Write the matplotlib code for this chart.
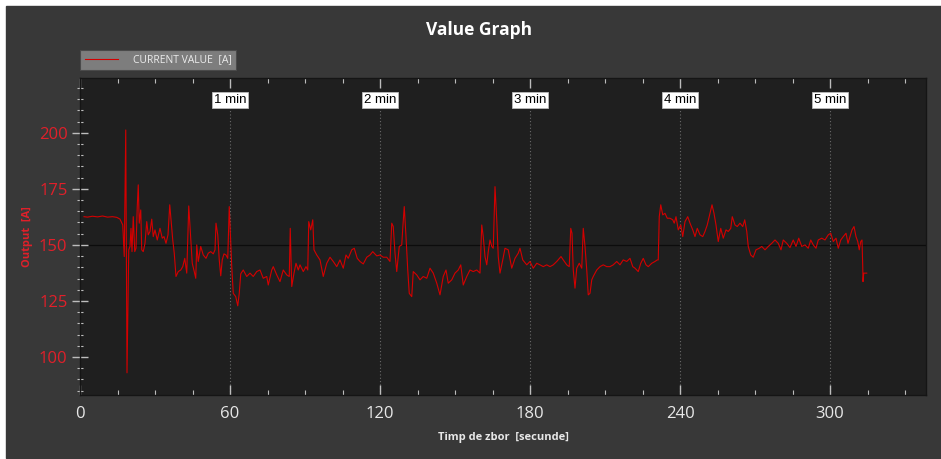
"""
Value Graph: current over flight time, dark theme.
Saves out.png (941x459).
"""
import matplotlib
matplotlib.use('Agg')
import matplotlib.pyplot as plt
from matplotlib.ticker import MultipleLocator

# Flight time (s) and current value (A)
time_s = [
    1.6, 3, 5, 7, 9, 11, 13, 14.7, 16, 17.1,
    17.7, 18.3, 18.8, 19.5, 20, 20.4, 20.8, 21.3, 21.9, 22.4,
    22.9, 23.3, 23.7, 24.3, 24.7, 25.3, 26, 26.7, 27.3, 28,
    28.7, 29.3, 30, 30.9, 32, 32.9, 33.6, 34.4, 35.2, 35.9,
    36.4, 37.1, 37.7, 38.4, 39.3, 40.3, 41.1, 41.9, 42.7, 43.5,
    44.1, 44.9, 45.7, 46.3, 46.7, 47.3, 48.3, 49.3, 50.4, 51.3,
    52.3, 53.3, 54, 54.4, 55.1, 55.7, 56.3, 56.9, 57.6, 58.4,
    59.1, 59.7, 60.1, 60.7, 61.3, 62.3, 63.1, 63.7, 64.3, 65.3,
    66.7, 68, 69.3, 70.7, 72, 73.3, 74.7, 75.3, 76.7, 77.3,
    78.7, 80, 81.3, 82.7, 83.7, 84.1, 84.7, 85.6, 86.4, 87.3,
    88, 89.3, 90.4, 91.1, 91.5, 92.3, 93.1, 93.6, 94.7, 96,
    97.3, 98.7, 100, 101.3, 102.7, 104, 105.3, 106.4, 107.3, 108.7,
    109.7, 110.9, 112, 113.3, 114.7, 116, 117.1, 118.7, 120, 121.3,
    122.7, 124, 124.7, 125.3, 126, 126.7, 127.7, 128.7, 129.1, 129.7,
    130.4, 131.1, 131.7, 132.7, 133.3, 134.7, 136, 137.3, 138.7, 140,
    141.3, 142.7, 144, 145.3, 146.4, 147.3, 148.7, 150, 151.3, 152.3,
    153.3, 154.7, 156, 157.3, 158.7, 160, 160.7, 161.3, 162, 162.7,
    163.3, 164, 164.7, 165.3, 166, 166.7, 167.3, 168, 169.1, 170,
    171.3, 172.7, 174, 175.3, 176, 177.1, 178.7, 180, 181.3, 182.7,
    184, 185.3, 186.7, 188, 189.3, 190.7, 192.4, 193.3, 194.7, 195.7,
    196.3, 196.8, 197.3, 198, 198.7, 199.7, 200.7, 201.3, 202, 202.7,
    203.3, 204, 204.7, 205.3, 206.7, 208, 209.3, 210.7, 212, 213.3,
    214.7, 216, 217.3, 218.7, 220, 221.1, 222, 223.3, 224.3, 225.3,
    226.4, 227.3, 228.7, 230, 230.9, 231.3, 231.7, 232.3, 233.1, 234,
    234.9, 236, 237.1, 237.7, 238.4, 239.3, 240.3, 241.1, 242, 243.1,
    244, 245.1, 246, 246.9, 248, 249.1, 250, 250.9, 252, 252.8,
    253.6, 254.4, 255.3, 256.3, 257.3, 258.4, 259.3, 260.3, 260.9, 262,
    262.9, 264, 265.1, 265.9, 266.7, 267.3, 268.3, 269.3, 270.4, 271.7,
    272.7, 274, 275.3, 276.7, 278, 279.3, 280.4, 281.3, 282.7, 284,
    285.3, 286.4, 287.5, 288.7, 290, 291.3, 292.3, 293.3, 294.4, 295.3,
    296.7, 298, 299.3, 300.3, 301.3, 302.4, 303.3, 304.3, 305.3, 306.4,
    307.2, 308, 308.8, 309.6, 310.4, 311.1, 311.7, 312.3, 312.8, 313.1,
    313.2, 313.5, 314.7,
]
current_a = [
    162.6, 162.4, 162.8, 162.5, 162.9, 162.4, 162.6, 162.3, 161.5, 158.9,
    144.8, 201.3, 92.9, 147.8, 149.3, 157.4, 147.0, 162.6, 147.0, 148.5,
    167.1, 176.8, 159.7, 165.6, 147.8, 147.0, 150.7, 160.4, 154.5, 156.0,
    161.5, 153.7, 156.7, 152.2, 157.4, 153.0, 153.7, 150.7, 154.5, 167.9,
    161.2, 152.2, 146.3, 135.9, 138.1, 138.8, 140.3, 144.0, 137.4, 167.4,
    156.7, 141.8, 138.1, 135.1, 150.0, 142.6, 149.3, 145.5, 144.0, 146.3,
    147.0, 146.0, 147.8, 159.7, 154.5, 143.3, 136.2, 143.3, 146.0, 145.5,
    144.0, 167.1, 156.7, 140.3, 128.4, 126.9, 122.8, 128.4, 137.1, 138.8,
    135.9, 137.4, 135.9, 138.1, 138.8, 135.1, 135.9, 132.1, 138.8, 140.3,
    136.6, 133.6, 138.8, 136.6, 135.9, 157.4, 131.4, 137.4, 141.8, 138.8,
    141.1, 138.1, 140.3, 138.8, 160.4, 156.7, 161.2, 147.8, 145.5, 143.3,
    135.9, 141.8, 144.5, 142.6, 140.3, 143.3, 139.6, 145.5, 144.0, 147.8,
    148.5, 144.0, 142.6, 141.5, 144.5, 145.5, 147.0, 145.1, 145.5, 144.5,
    144.5, 142.6, 159.7, 158.2, 146.3, 138.1, 149.3, 150.0, 157.4, 167.1,
    153.7, 138.8, 128.4, 126.9, 138.1, 136.6, 134.4, 135.9, 135.1, 139.6,
    137.4, 132.9, 127.7, 135.9, 138.8, 132.9, 134.4, 137.4, 138.8, 141.1,
    132.1, 135.9, 138.8, 138.1, 138.8, 137.4, 158.9, 153.7, 144.8, 141.1,
    147.0, 152.2, 149.3, 148.5, 176.0, 161.2, 144.8, 137.4, 143.3, 148.5,
    147.8, 139.6, 144.0, 146.3, 148.5, 143.3, 141.1, 142.6, 139.6, 141.8,
    141.1, 140.3, 141.1, 140.3, 141.1, 142.6, 144.8, 143.3, 141.1, 140.3,
    157.4, 155.2, 138.8, 130.7, 139.6, 141.8, 139.6, 157.4, 149.3, 138.8,
    127.7, 128.4, 134.4, 135.9, 138.8, 140.3, 141.1, 140.3, 140.3, 141.1,
    142.6, 141.1, 143.3, 142.6, 144.0, 140.3, 139.6, 138.1, 141.8, 144.0,
    141.1, 140.3, 141.8, 142.6, 143.3, 143.3, 162.6, 167.9, 163.4, 164.1,
    161.9, 161.9, 161.2, 159.7, 162.6, 156.7, 158.9, 153.7, 160.4, 162.6,
    159.7, 156.7, 153.7, 157.4, 154.5, 153.7, 156.0, 158.9, 164.1, 167.9,
    164.1, 158.9, 151.5, 157.4, 153.0, 156.7, 156.0, 157.4, 162.6, 158.9,
    158.2, 159.7, 158.2, 161.2, 156.0, 149.3, 145.5, 144.5, 147.8, 148.5,
    149.3, 147.8, 149.3, 150.7, 152.2, 150.7, 147.8, 152.2, 150.7, 148.8,
    152.2, 149.3, 153.0, 149.3, 150.0, 148.5, 152.2, 150.0, 148.5, 152.2,
    153.0, 152.2, 154.5, 155.2, 151.5, 153.0, 148.5, 152.2, 153.7, 155.2,
    150.7, 153.7, 156.7, 158.2, 153.7, 151.5, 147.8, 151.5, 152.2, 140.3,
    133.6, 137.4, 137.4,
]

minute_marks = [60, 120, 180, 240, 300]
minute_labels = ['1 min', '2 min', '3 min', '4 min', '5 min']
reference_level = 150

fig = plt.figure(figsize=(9.41, 4.59), dpi=100, facecolor='white')
# тёмная рамка вокруг графика (белая полоска слева и сверху, как на скриншоте)
fig.patches.append(plt.Rectangle((6 / 941, 1 / 459), 935 / 941, 452 / 459,
                                 transform=fig.transFigure, color='#383838', zorder=-1))

ax = fig.add_axes([80 / 941, 1 - 395 / 459, 846 / 941, 317 / 459])
ax.set_facecolor('#1f1f1f')

ax.plot(time_s, current_a, color='#d40000', linewidth=0.8, label='CURRENT VALUE  [A]')
ax.axhline(reference_level, color='#0c0c0c', linewidth=0.9, zorder=1)

for t, lbl in zip(minute_marks, minute_labels):
    ax.vlines(t, 83, 212, colors='#6a6a6a', linestyles=(0, (1, 2)), linewidth=0.8, zorder=1)
    ax.text(t, 214.6, lbl, ha='center', va='center', fontsize=9.5, color='black',
            family='Liberation Sans',
            bbox=dict(boxstyle='square,pad=0.15', facecolor='white', edgecolor='#bbbbbb', linewidth=0.6))

ax.set_xlim(0, 338.4)
ax.set_ylim(83, 224.5)
ax.xaxis.set_major_locator(MultipleLocator(60))
ax.xaxis.set_minor_locator(MultipleLocator(15))
ax.yaxis.set_major_locator(MultipleLocator(25))
ax.yaxis.set_minor_locator(MultipleLocator(5))
ax.set_yticks([100, 125, 150, 175, 200])

ax.tick_params(axis='x', which='both', top=True, bottom=True, direction='in', colors='#bdbdbd',
               labelcolor='#e8e8e8', labelsize=12, pad=8)
ax.tick_params(axis='x', which='major', length=7, width=1)
ax.tick_params(axis='x', which='minor', length=3.5, width=0.8)
ax.tick_params(axis='y', which='both', direction='inout', colors='#bdbdbd',
               labelcolor='#e0202a', labelsize=12)
ax.tick_params(axis='y', which='major', length=11, width=1)
ax.tick_params(axis='y', which='minor', length=5, width=0.8)
for lbl in ax.get_xticklabels() + ax.get_yticklabels():
    lbl.set_family('Open Sans')

for s in ax.spines.values():
    s.set_color('#151515')
    s.set_linewidth(1)

ax.set_xlabel('Timp de zbor  [secunde]', color='#e8e8e8', fontsize=8, fontweight='bold',
              family='Open Sans', labelpad=7)
ax.set_ylabel('Output  [A]', color='#e0202a', fontsize=8, fontweight='bold',
              family='Open Sans', labelpad=4)

fig.text(0.509, 1 - 30 / 459, 'Value Graph', ha='center', va='center', color='white',
         fontsize=12.5, fontweight='bold', family='Open Sans')

leg = ax.legend(loc='lower left', bbox_to_anchor=(0, 1.025), borderaxespad=0, fontsize=7.5,
                handlelength=3.2, handletextpad=1.4, borderpad=0.45, fancybox=False,
                facecolor='#7d7d7d', edgecolor='#4a4a4a', framealpha=1)
leg.get_frame().set_linewidth(0.8)
for txt in leg.get_texts():
    txt.set_color('#ececec')
    txt.set_family('Open Sans')

plt.savefig('out.png', dpi=100, facecolor=fig.get_facecolor())
print("Saved out.png")
